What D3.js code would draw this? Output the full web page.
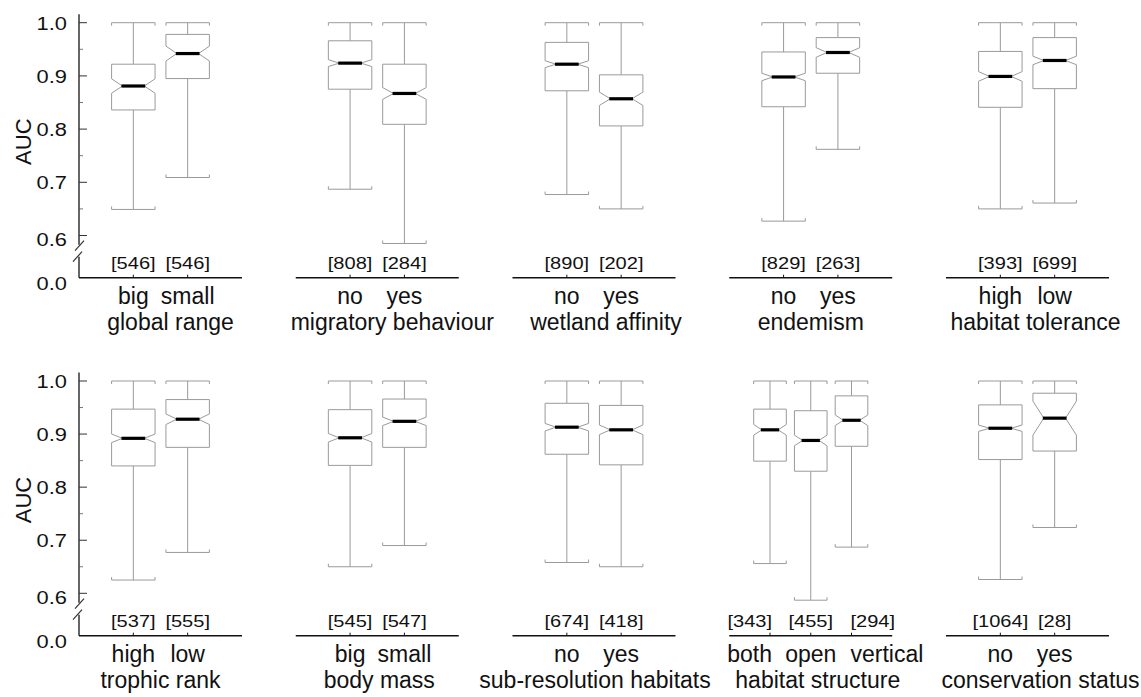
<!DOCTYPE html>
<html><head><meta charset="utf-8">
<script src="https://cdn.jsdelivr.net/npm/d3@7"></script>
<style>body{margin:0;background:#fff} svg{display:block}</style>
</head><body><svg id="c" width="1141" height="697"></svg>
<script>
// ---------------- data ----------------
const titles = ["global range","migratory behaviour","wetland affinity","endemism","habitat tolerance",
                "trophic rank","body mass","sub-resolution habitats","habitat structure","conservation status"];
const categories = [["big","small"],["no","yes"],["no","yes"],["no","yes"],["high","low"],
                    ["high","low"],["big","small"],["no","yes"],["both","open","vertical"],["no","yes"]];
const counts = [[546,546],[808,284],[890,202],[829,263],[393,699],
                [537,555],[545,547],[674,418],[343,455,294],[1064,28]];
const whiskerHigh = [[1,1],[1,1],[1,1],[1,1],[1,1],[1,1],[1,1],[1,1],[1,1,1],[1,1]];
const q3 = [[0.922,0.978],[0.966,0.922],[0.963,0.902],[0.945,0.972],[0.946,0.972],
            [0.947,0.965],[0.946,0.966],[0.958,0.954],[0.947,0.944,0.972],[0.955,0.977]];
const medians = [[0.881,0.942],[0.924,0.867],[0.922,0.857],[0.898,0.944],[0.899,0.929],
                 [0.892,0.928],[0.893,0.924],[0.913,0.908],[0.908,0.888,0.926],[0.911,0.930]];
const q1 = [[0.836,0.895],[0.875,0.809],[0.872,0.806],[0.842,0.905],[0.841,0.876],
            [0.840,0.875],[0.841,0.875],[0.862,0.842],[0.849,0.830,0.877],[0.852,0.868]];
const whiskerLow = [[0.649,0.709],[0.687,0.585],[0.677,0.650],[0.627,0.762],[0.650,0.661],
                    [0.625,0.677],[0.650,0.690],[0.658,0.650],[0.656,0.587,0.687],[0.626,0.724]];
const notchHalf = [[0.0135,0.014],[0.0065,0.011],[0.0065,0.0125],[0.007,0.009],[0.009,0.008],
                   [0.008,0.010],[0.008,0.008],[0.007,0.009],[0.010,0.010,0.010],[0.006,0.032]];
const yTicks = [0.6,0.7,0.8,0.9,1.0];
const yMinorTicks = [0.65,0.75,0.85,0.95];
const yLabel = "AUC";

// ---------------- layout ----------------
const svg = d3.select("#c");
const font = "'Liberation Sans', Arial, Helvetica, sans-serif";
const rows = [{top:22.7, bottom:235.5, base:277.7, catDy:26.5, titleDy:52.5},
              {top:381, bottom:593.3, base:635.7, catDy:26.5, titleDy:52}];
const panelX0 = 79, panelStep = 216.75, panelW = 163;
const titleShift = [10,15,12,0,8, 0,2,1,7,13];
const grey = "#9a9a9a";

function scaledText(g, x, y, txt, size, sx, anchor, baseline){
  return g.append("text")
    .attr("transform", `translate(${x},${y}) scale(${sx},1)`)
    .attr("text-anchor", anchor)
    .attr("dominant-baseline", baseline || "auto")
    .attr("font-family", font).attr("font-size", size).attr("fill","#111")
    .text(txt);
}

rows.forEach((row, r) => {
  const y = d3.scaleLinear().domain([0.6,1.0]).range([row.bottom,row.top]);
  const g = svg.append("g");
  // y axis with break
  const ax = panelX0;
  g.append("line").attr("x1",ax).attr("x2",ax).attr("y1",y(1.016)).attr("y2",row.base-33)
    .attr("stroke","#333").attr("stroke-width",1.5);
  g.append("line").attr("x1",ax).attr("x2",ax).attr("y1",row.base-21).attr("y2",row.base)
    .attr("stroke","#333").attr("stroke-width",1.5);
  g.append("line").attr("x1",ax-4).attr("y1",row.base-27).attr("x2",ax+5).attr("y2",row.base-37)
    .attr("stroke","#333").attr("stroke-width",1.2);
  g.append("line").attr("x1",ax-6).attr("y1",row.base-16).attr("x2",ax+3).attr("y2",row.base-26)
    .attr("stroke","#333").attr("stroke-width",1.2);
  yTicks.forEach(t => {
    g.append("line").attr("x1",ax).attr("x2",ax+8).attr("y1",y(t)).attr("y2",y(t))
      .attr("stroke","#333").attr("stroke-width",1);
    scaledText(g, 67, y(t) + (t===0.6?4:0), d3.format(".1f")(t), 19, 1.15, "end", "central");
  });
  yMinorTicks.forEach(t => {
    g.append("line").attr("x1",ax).attr("x2",ax+4).attr("y1",y(t)).attr("y2",y(t))
      .attr("stroke","#555").attr("stroke-width",0.8);
  });
  scaledText(g, 67, row.base+5, "0.0", 19, 1.15, "end", "central");
  g.append("text").attr("transform",`translate(23,${row.top+119}) rotate(-90)`)
    .attr("text-anchor","middle").attr("dominant-baseline","central")
    .attr("font-family",font).attr("font-size",22).attr("fill","#111").text(yLabel);

  for (let c = 0; c < 5; c++) {
    const p = r*5 + c;
    const cats = categories[p];
    const x0 = panelX0 + c*panelStep;
    const x = d3.scaleLinear().domain([0, cats.length+1]).range([x0, x0+panelW]);
    const unit = x(1)-x(0);
    const bw = unit*0.8;
    g.append("line").attr("x1",x0).attr("x2",x0+panelW).attr("y1",row.base).attr("y2",row.base)
      .attr("stroke","#111").attr("stroke-width",1.6);
    cats.forEach((cat, i) => {
      const cx = x(i+1);
      const hi = whiskerHigh[p][i], uq = q3[p][i], md = medians[p][i], lq = q1[p][i],
            lo = whiskerLow[p][i], nh = notchHalf[p][i];
      const L = cx-bw/2, R = cx+bw/2, NL = cx-bw/4, NR = cx+bw/4;
      g.append("line").attr("x1",cx).attr("x2",cx).attr("y1",y(hi)).attr("y2",y(uq))
        .attr("stroke",grey).attr("stroke-width",1);
      g.append("line").attr("x1",cx).attr("x2",cx).attr("y1",y(lq)).attr("y2",y(lo))
        .attr("stroke",grey).attr("stroke-width",1);
      g.append("path").attr("d",`M${L},${y(hi)+3}V${y(hi)}H${R}V${y(hi)+3}`)
        .attr("fill","none").attr("stroke",grey).attr("stroke-width",1);
      g.append("path").attr("d",`M${L},${y(lo)-3}V${y(lo)}H${R}V${y(lo)-3}`)
        .attr("fill","none").attr("stroke",grey).attr("stroke-width",1);
      const d = `M${L},${y(uq)}H${R}V${y(md+nh)}L${NR},${y(md)}L${R},${y(md-nh)}V${y(lq)}H${L}V${y(md-nh)}L${NL},${y(md)}L${L},${y(md+nh)}Z`;
      g.append("path").attr("d",d).attr("fill","#fff").attr("stroke",grey).attr("stroke-width",1);
      g.append("line").attr("x1",NL-1).attr("x2",NR+1).attr("y1",y(md)).attr("y2",y(md))
        .attr("stroke","#000").attr("stroke-width",3.2);
      g.append("line").attr("x1",cx).attr("x2",cx).attr("y1",row.base).attr("y2",row.base-3)
        .attr("stroke","#111").attr("stroke-width",1);
      // crowded 3-group panel: outer labels spread outward
      let anchor = "middle", lx = cx;
      if (cats.length === 3 && i === 0) { anchor = "end"; lx = cx + 2; }
      if (cats.length === 3 && i === 2) { anchor = "start"; lx = cx - 1; }
      scaledText(g, lx, row.base-15, `[${counts[p][i]}]`, 17, 1.18, anchor, "central");
      scaledText(g, lx, row.base+row.catDy, cat, 23, 1, anchor);
    });
    scaledText(g, x0+panelW/2+titleShift[p], row.base+row.titleDy, titles[p], 23, 1, "middle");
  }
});
</script></body></html>
